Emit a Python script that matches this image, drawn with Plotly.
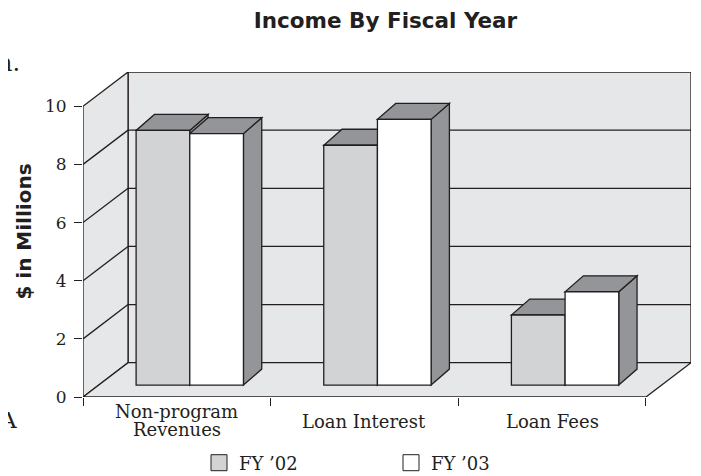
import plotly.graph_objects as go

# ---- data ----
cat_line1 = ["Non-program", "Loan Interest", "Loan Fees"]
cat_line2 = ["Revenues", "", ""]
fy02 = [8.76, 8.25, 2.41]
fy03 = [8.65, 9.14, 3.21]
series_names = ["FY \u201902", "FY \u201903"]
y_ticks = [0, 2, 4, 6, 8, 10]

# ---- 3D look parameters (axis units) ----
WDX, WDY = 0.24, 1.18      # back-wall depth offset
SHIFT, BASE = 0.069, 0.41  # bar front plane offset
W = 0.286                  # bar width
DDX, DDY = 0.0975, 0.55    # bar depth
LINE = "#231f20"
WALL = "#e6e7e8"
FACE02 = "#d1d3d4"
FACE03 = "#ffffff"
DARK = "#939598"
LW = 1.3
PAGE = 8  # browser default body margin

x_pos = list(range(len(cat_line1)))
x0, x1 = -0.5, len(cat_line1) - 0.5
ytop = y_ticks[-1]

shapes = []
def path(pts):
    return "M " + " L ".join(f"{a},{b}" for a, b in pts) + " Z"

# walls
shapes.append(dict(type="path", layer="below", xref="x", yref="y",
                   path=path([(x0 + WDX, WDY), (x1 + WDX, WDY), (x1 + WDX, ytop + WDY), (x0 + WDX, ytop + WDY)]),
                   fillcolor=WALL, line=dict(color=LINE, width=LW)))
shapes.append(dict(type="path", layer="below", xref="x", yref="y",
                   path=path([(x0, 0), (x0, ytop), (x0 + WDX, ytop + WDY), (x0 + WDX, WDY)]),
                   fillcolor=WALL, line=dict(color=LINE, width=LW)))
shapes.append(dict(type="path", layer="below", xref="x", yref="y",
                   path=path([(x0, 0), (x1, 0), (x1 + WDX, WDY), (x0 + WDX, WDY)]),
                   fillcolor=WALL, line=dict(color=LINE, width=LW)))
for v in y_ticks[1:-1]:
    shapes.append(dict(type="line", layer="below", xref="x", yref="y",
                       x0=x0 + WDX, x1=x1 + WDX, y0=v + WDY, y1=v + WDY,
                       line=dict(color=LINE, width=LW)))
    shapes.append(dict(type="line", layer="below", xref="x", yref="y",
                       x0=x0, x1=x0 + WDX, y0=v, y1=v + WDY,
                       line=dict(color=LINE, width=LW)))

# bar tops and sides
for i, (a, b) in enumerate(zip(fy02, fy03)):
    for xl, xr, v in [(i + SHIFT - W, i + SHIFT, a), (i + SHIFT, i + SHIFT + W, b)]:
        top = BASE + v
        shapes.append(dict(type="path", layer="below", xref="x", yref="y",
                           path=path([(xr, BASE), (xr + DDX, BASE + DDY), (xr + DDX, top + DDY), (xr, top)]),
                           fillcolor=DARK, line=dict(color=LINE, width=LW)))
        shapes.append(dict(type="path", layer="below", xref="x", yref="y",
                           path=path([(xl, top), (xr, top), (xr + DDX, top + DDY), (xl + DDX, top + DDY)]),
                           fillcolor=DARK, line=dict(color=LINE, width=LW)))

fig = go.Figure()
fig.add_trace(go.Bar(x=x_pos, y=fy02, base=BASE, width=W, offset=SHIFT - W,
                     marker=dict(color=FACE02, line=dict(color=LINE, width=LW)),
                     name=series_names[0], showlegend=False))
fig.add_trace(go.Bar(x=x_pos, y=fy03, base=BASE, width=W, offset=SHIFT,
                     marker=dict(color=FACE03, line=dict(color=LINE, width=LW)),
                     name=series_names[1], showlegend=False))
# legend entries
fig.add_trace(go.Scatter(x=[None], y=[None], mode="markers", name=series_names[0],
                         marker=dict(symbol="square", size=16, color=FACE02, line=dict(color=LINE, width=1)),
                         legend="legend"))
fig.add_trace(go.Scatter(x=[None], y=[None], mode="markers", name=series_names[1],
                         marker=dict(symbol="square", size=16, color=FACE03, line=dict(color=LINE, width=1)),
                         legend="legend2"))

SERIF = "DejaVu Serif"
SANS = "DejaVu Sans"
TXT = "#231f20"
annotations = []
for i in x_pos:
    if cat_line2[i]:
        annotations.append(dict(x=i, y=0, xref="x", yref="paper", text=cat_line1[i], showarrow=False,
                                yanchor="middle", yshift=-14, font=dict(family=SERIF, size=18, color=TXT)))
        annotations.append(dict(x=i, y=0, xref="x", yref="paper", text=cat_line2[i], showarrow=False,
                                yanchor="middle", yshift=-32.5, font=dict(family=SERIF, size=18, color=TXT)))
    else:
        annotations.append(dict(x=i, y=0, xref="x", yref="paper", text=cat_line1[i], showarrow=False,
                                yanchor="middle", yshift=-24, font=dict(family=SERIF, size=18, color=TXT)))
annotations.append(dict(x=0, y=0.509, xref="paper", yref="paper", text="<b>$ in Millions</b>", textangle=-90,
                        showarrow=False, xanchor="center", yanchor="middle", xshift=-59,
                        font=dict(family=SANS, size=20, color=TXT)))
annotations.append(dict(x=0, y=1, xref="paper", yref="paper", text="n.", showarrow=False,
                        xanchor="right", yanchor="middle", xshift=-61, yshift=9,
                        font=dict(family=SERIF, size=24, color=TXT)))
annotations.append(dict(x=0, y=0, xref="paper", yref="paper", text="A", showarrow=False,
                        xanchor="right", yanchor="middle", xshift=-64, yshift=-23,
                        font=dict(family=SERIF, size=23, color=TXT)))

fig.update_layout(
    width=701 - PAGE, height=476 - PAGE,
    margin=dict(l=83 - PAGE, r=10, t=72 - PAGE, b=79, autoexpand=False),
    paper_bgcolor="white", plot_bgcolor="white",
    barmode="overlay",
    title=dict(text="<b>Income By Fiscal Year</b>", x=(385.5 - PAGE) / (701 - PAGE), xref="container",
               xanchor="center", y=1 - (20 - PAGE) / (476 - PAGE), yref="container", yanchor="middle",
               font=dict(family=SANS, size=21.5, color=TXT)),
    xaxis=dict(range=[x0, x1 + WDX], tickvals=[x0 + k for k in range(len(x_pos) + 1)],
               showticklabels=False, ticks="outside", ticklen=8, tickcolor=LINE, tickwidth=LW,
               showgrid=False, zeroline=False, showline=False, fixedrange=True),
    yaxis=dict(range=[0, ytop + WDY], tickvals=y_ticks, ticks="outside", ticklen=8, tickcolor=LINE,
               tickwidth=LW, showgrid=False, zeroline=False, showline=False,
               tickfont=dict(family=SERIF, size=17, color=TXT), ticklabelstandoff=4),
    shapes=shapes,
    annotations=annotations,
    legend=dict(orientation="h", x=(199 - 83) / 608, y=(397 - 463) / 325, xanchor="left", yanchor="middle",
                font=dict(family=SERIF, size=18, color=TXT), bgcolor="rgba(0,0,0,0)"),
    legend2=dict(orientation="h", x=(391 - 83) / 608, y=(397 - 463) / 325, xanchor="left", yanchor="middle",
                 font=dict(family=SERIF, size=18, color=TXT), bgcolor="rgba(0,0,0,0)"),
)

fig.write_html("out.html")
